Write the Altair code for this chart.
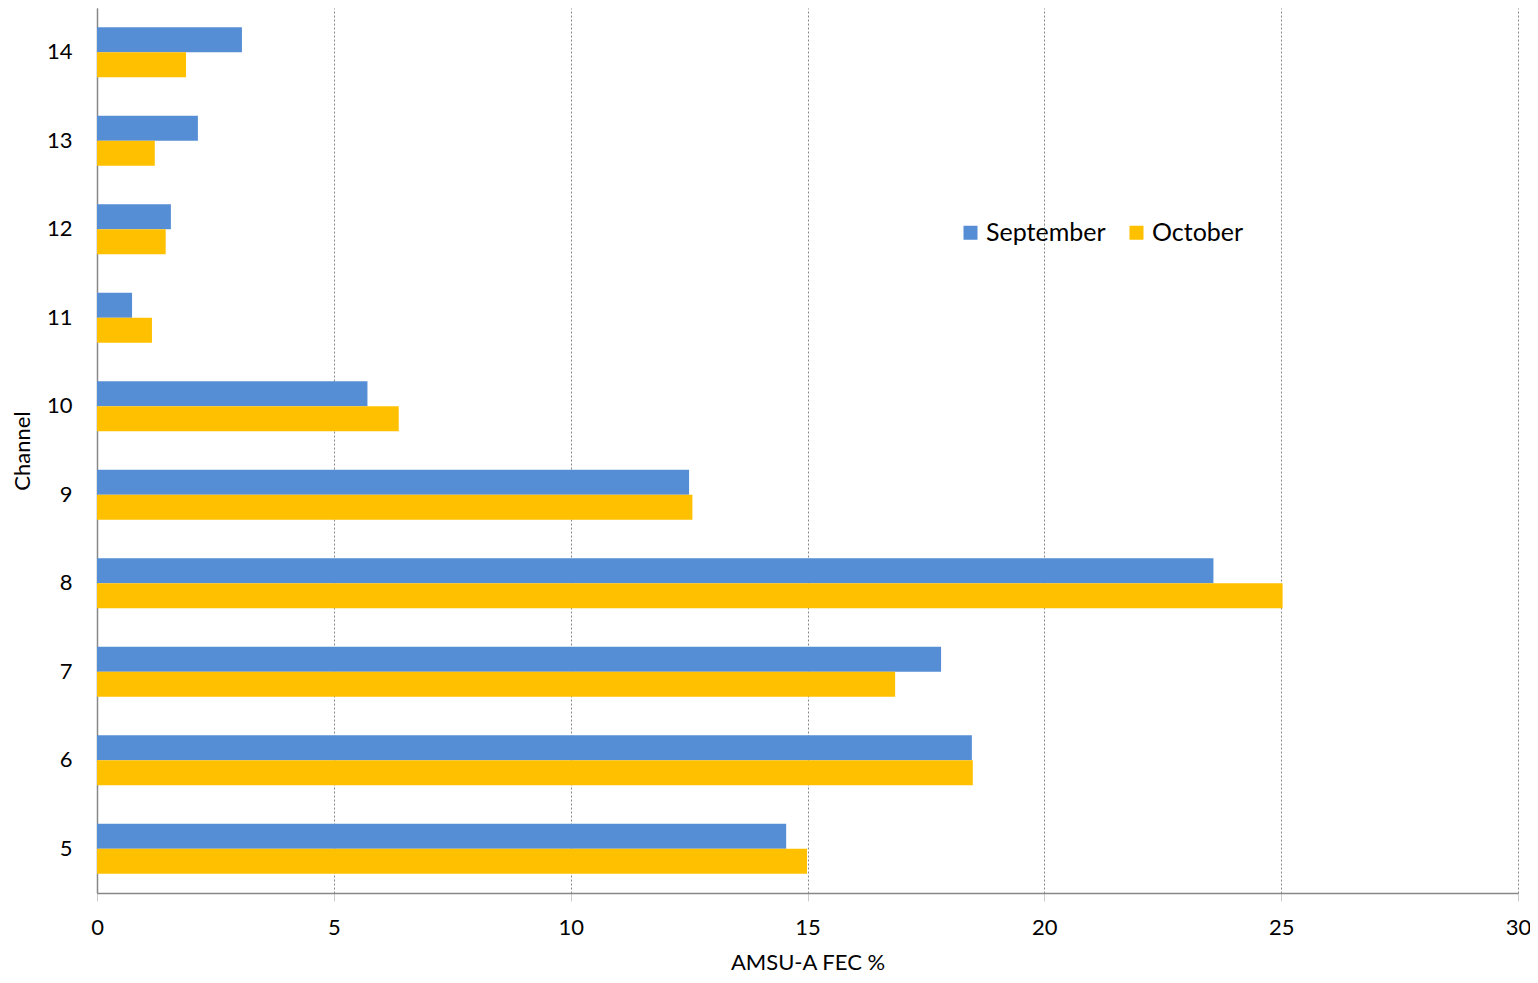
import altair as alt
import pandas as pd

channels = ["14", "13", "12", "11", "10", "9", "8", "7", "6", "5"]
september = [3.06, 2.13, 1.56, 0.74, 5.71, 12.50, 23.57, 17.82, 18.47, 14.55]
october = [1.88, 1.22, 1.45, 1.16, 6.37, 12.57, 25.03, 16.85, 18.49, 14.99]
months = ["September", "October"]
colors = ["#558ED5", "#FFC000"]

rows = []
for c, s, o in zip(channels, september, october):
    rows.append({"Channel": c, "Month": "September", "Value": s})
    rows.append({"Channel": c, "Month": "October", "Value": o})
df = pd.DataFrame(rows)

FONT = "Lato"

chart = alt.Chart(df).mark_bar().encode(
    y=alt.Y("Channel:N", sort=channels,
            scale=alt.Scale(paddingInner=0.435, paddingOuter=0.2175),
            axis=alt.Axis(title="Channel", ticks=False, labelPadding=25,
                          labelFontSize=22, labelFont=FONT, labelColor="#000",
                          domainColor="#888", domainWidth=1.5,
                          titleFont=FONT, titleFontSize=22, titleFontWeight="normal",
                          titleColor="#000", titleAngle=270, titleX=-75, titleY=442.5,
                          titleAlign="center", titleBaseline="middle")),
    yOffset=alt.YOffset("Month:N", sort=months),
    x=alt.X("Value:Q", scale=alt.Scale(domain=[0, 30]),
            axis=alt.Axis(title="AMSU-A FEC %", values=[0, 5, 10, 15, 20, 25, 30],
                          grid=True, gridColor="#888", gridDash=[2, 2], gridWidth=1,
                          tickSize=8, tickColor="#ccc", labelPadding=16, labelFlush=False,
                          labelFontSize=22, labelFont=FONT, labelColor="#000",
                          domainColor="#888", domainWidth=1.5,
                          titleFont=FONT, titleFontSize=22, titleFontWeight="normal",
                          titleColor="#000", titleBaseline="alphabetic", titleY=76)),
    color=alt.Color("Month:N", sort=months,
                    scale=alt.Scale(domain=months, range=colors),
                    legend=alt.Legend(title=None, orient="none", legendX=861, legendY=212,
                                      direction="horizontal", symbolType="square",
                                      symbolSize=196, symbolStrokeWidth=0,
                                      labelFont=FONT, labelFontSize=25, labelColor="#000",
                                      labelOffset=3, columnPadding=18)),
).properties(
    width=1421, height=885,
    autosize=alt.AutoSizeParams(type="none"),
    padding={"left": 89, "top": 0, "right": 12, "bottom": 82},
).configure_view(stroke=None)

chart.save("out.html", embed_options={"renderer": "svg", "actions": False})
